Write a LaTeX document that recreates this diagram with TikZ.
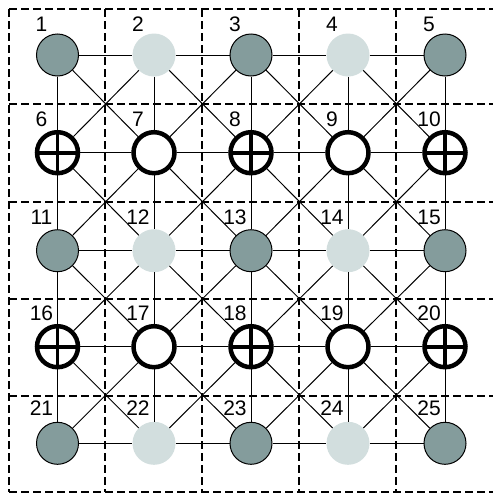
\documentclass[tikz,border=0pt]{standalone}
\usepackage{fontspec}
\setmainfont{Liberation Sans}
\definecolor{darkn}{RGB}{132,156,156}
\definecolor{lightn}{RGB}{210,222,222}
\begin{document}
\begin{tikzpicture}[x=1pt,y=-1pt,
  gridline/.style={dash pattern=on 8pt off 4pt, line width=2.4pt},
  edge/.style={line width=1pt},
  type0/.style={circle, fill=darkn, draw=black, line width=1pt, minimum size=42pt, inner sep=0pt},
  type1/.style={circle, fill=lightn, minimum size=43pt, inner sep=0pt},
  type2/.style={circle, fill=white, draw=black, line width=4.5pt, minimum size=41pt, inner sep=0pt,
    path picture={\draw[line width=3.8pt] (path picture bounding box.north) -- (path picture bounding box.south)
      (path picture bounding box.west) -- (path picture bounding box.east);}},
  type3/.style={circle, fill=white, draw=black, line width=4.5pt, minimum size=41pt, inner sep=0pt},
  lab/.style={anchor=base, inner sep=0pt, font=\fontsize{21}{21}\selectfont}]
\useasboundingbox (0,0) rectangle (493,493);
% dashed grid
\foreach \x in {9,105,202,299,396}
  \draw[gridline] (\x,9) -- (\x,492);
\foreach \y in {9,104,202,299,396,492}
  \draw[gridline] (9,\y) -- (493,\y);
% nodes and labels
\foreach \r/\y/\ly in {0/55/31.7, 1/152.7/126.7, 2/250.7/224, 3/346.7/320.5, 4/443.3/415.5}
  \foreach \c/\x in {0/57.5, 1/154, 2/251, 3/348, 4/445} {
    \pgfmathtruncatemacro\n{\r*5+\c+1}
    \pgfmathtruncatemacro\t{2*mod(\r,2)+mod(\c,2)}
    \node[type\t] (n\n) at (\x,\y) {};
    \node[lab] (l\n) at (\x-16,\ly) {\n};
  }
% edges
\foreach \r in {0,...,4}
  \foreach \c in {0,...,3} {
    \pgfmathtruncatemacro\a{\r*5+\c+1}
    \pgfmathtruncatemacro\b{\a+1}
    \draw[edge] (n\a) -- (n\b);
  }
\foreach \r in {0,...,3}
  \foreach \c in {0,...,4} {
    \pgfmathtruncatemacro\a{\r*5+\c+1}
    \pgfmathtruncatemacro\b{\a+5}
    \draw[edge] (n\a) -- (n\b);
  }
\foreach \r in {0,...,3}
  \foreach \c in {0,...,3} {
    \pgfmathtruncatemacro\a{\r*5+\c+1}
    \pgfmathtruncatemacro\b{\a+6}
    \pgfmathtruncatemacro\p{\a+1}
    \pgfmathtruncatemacro\q{\a+5}
    \draw[edge] (n\a) -- (n\b);
    \draw[edge] (n\p) -- (n\q);
  }
\end{tikzpicture}
\end{document}
